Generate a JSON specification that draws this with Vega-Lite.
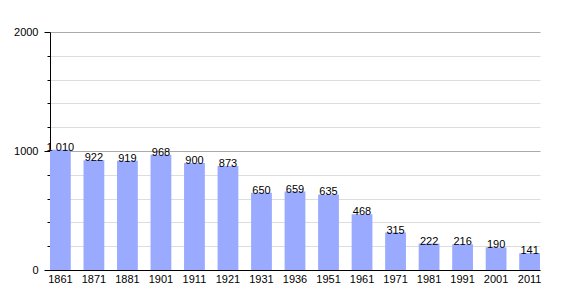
{
  "$schema": "https://vega.github.io/schema/vega-lite/v6.json",
  "autosize": "none",
  "width": 490,
  "height": 238,
  "padding": {"left": 50, "top": 32, "right": 30, "bottom": 30},
  "background": "white",
  "config": {
    "view": {"stroke": null},
    "font": "Liberation Sans",
    "locale": {"number": {"decimal": ",", "thousands": " ", "grouping": [3], "currency": ["", " €"]}}
  },
  "data": {"values": [
    {"year": "1861", "pop": 1010},
    {"year": "1871", "pop": 922},
    {"year": "1881", "pop": 919},
    {"year": "1901", "pop": 968},
    {"year": "1911", "pop": 900},
    {"year": "1921", "pop": 873},
    {"year": "1931", "pop": 650},
    {"year": "1936", "pop": 659},
    {"year": "1951", "pop": 635},
    {"year": "1961", "pop": 468},
    {"year": "1971", "pop": 315},
    {"year": "1981", "pop": 222},
    {"year": "1991", "pop": 216},
    {"year": "2001", "pop": 190},
    {"year": "2011", "pop": 141}
  ]},
  "encoding": {
    "x": {
      "field": "year", "type": "ordinal",
      "scale": {"paddingInner": 0.38, "paddingOuter": 0},
      "axis": {"title": null, "labelAngle": 0, "ticks": false, "domainColor": "#000", "labelColor": "#000", "labelFontSize": 11, "labelPadding": 3}
    },
    "y": {
      "field": "pop", "type": "quantitative",
      "scale": {"domain": [0, 2000], "nice": false},
      "axis": {
        "title": null,
        "values": [0, 200, 400, 600, 800, 1000, 1200, 1400, 1600, 1800, 2000],
        "labelExpr": "datum.value % 1000 === 0 ? format(datum.value, 'd') : ''",
        "gridColor": {"condition": {"test": "datum.value % 1000 === 0", "value": "#aaaaaa"}, "value": "#dddddd"},
        "tickSize": {"condition": {"test": "datum.value % 1000 === 0", "value": 6}, "value": 3},
        "tickColor": "#000",
        "domainColor": "#000",
        "labelColor": "#000",
        "labelFontSize": 11,
        "labelPadding": 6
      }
    }
  },
  "layer": [
    {"mark": {"type": "bar", "color": "#99aaff"}},
    {
      "mark": {"type": "text", "baseline": "alphabetic", "dy": 1, "fontSize": 11, "color": "#000"},
      "encoding": {"text": {"field": "pop", "type": "quantitative", "format": ",d"}}
    }
  ]
}
